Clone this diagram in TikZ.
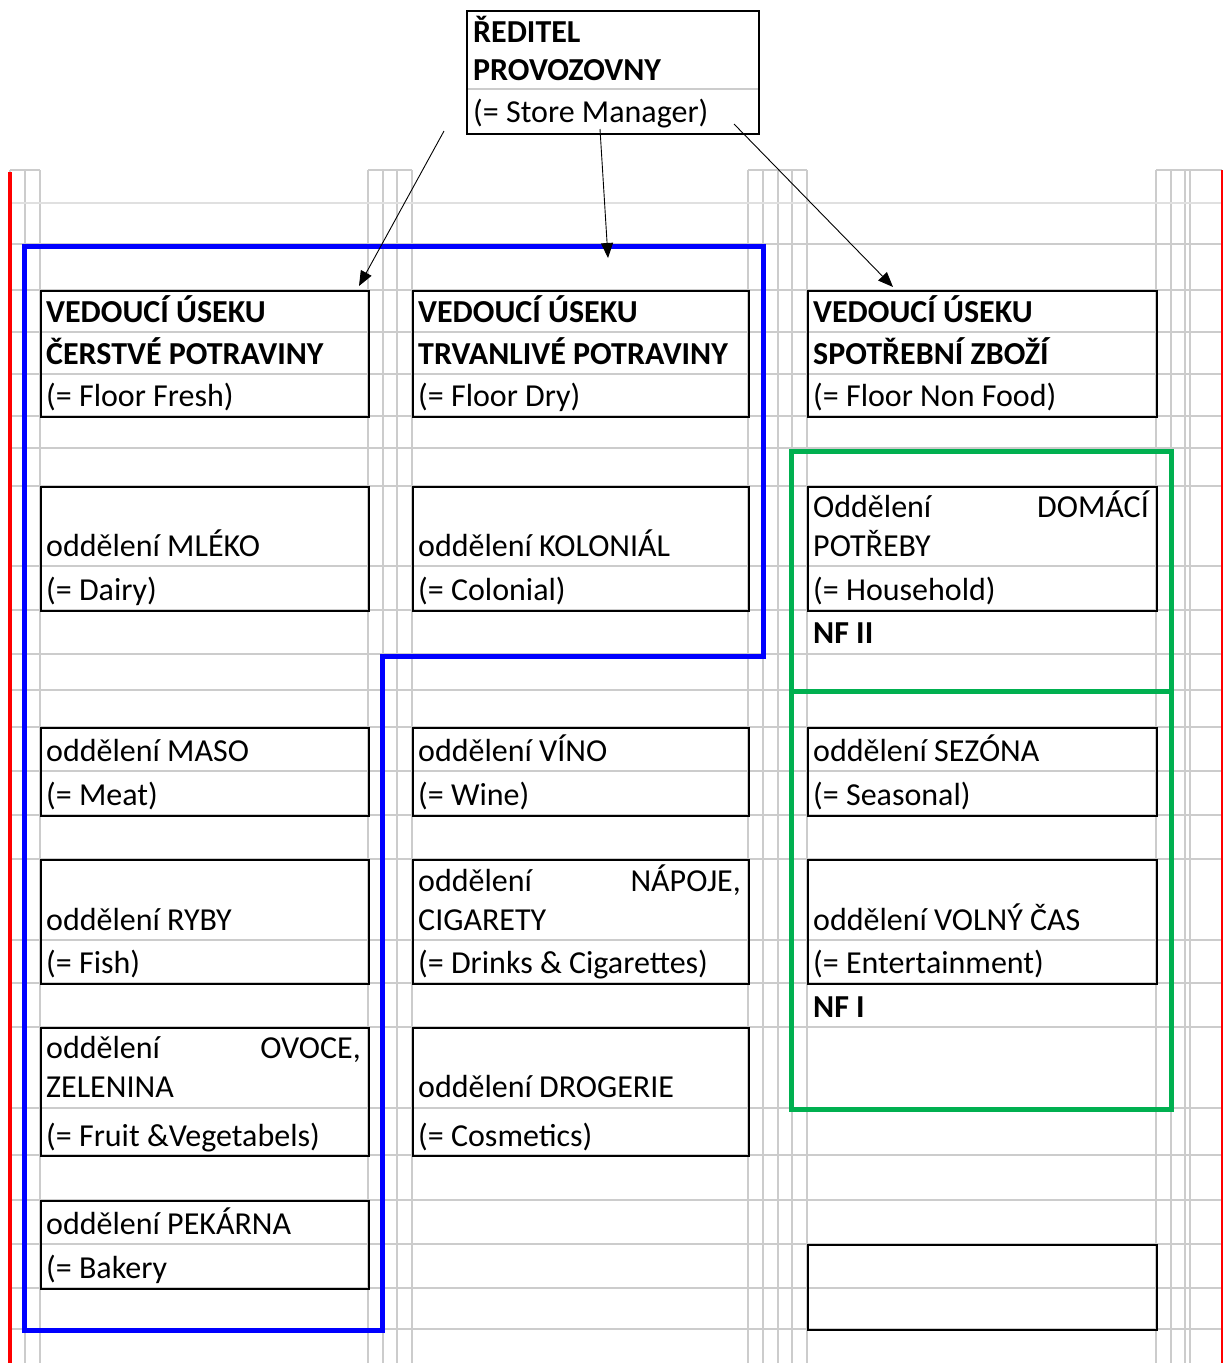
\documentclass[tikz,border=0pt]{standalone}
\usepackage{fontspec}
\setmainfont{Carlito}
\usetikzlibrary{arrows.meta}
\definecolor{gridgray}{RGB}{204,204,204}
\definecolor{gridlight}{RGB}{224,224,224}
\definecolor{xlblue}{RGB}{0,0,255}
\definecolor{xlgreen}{RGB}{0,176,80}
\definecolor{xlred}{RGB}{255,0,0}
\tikzset{
  gridline/.style={draw=gridgray, line width=1.3pt},
  boxcell/.style={draw=black, line width=1.7pt, inner sep=0pt, anchor=north west},
  txt/.style={anchor=base west, inner sep=0pt, font=\fontsize{32}{32}\selectfont},
  txtr/.style={anchor=base east, inner sep=0pt, font=\fontsize{32}{32}\selectfont},
  btxt/.style={anchor=base west, inner sep=0pt, font=\fontsize{32}{32}\selectfont\bfseries},
  conn/.style={draw=black, line width=0.9pt, -{Triangle[length=15pt,width=12pt]}},
}
\begin{document}
\begin{tikzpicture}[x=1pt,y=-1pt]
\useasboundingbox[fill=white] (0,0) rectangle (1223,1363);
% grid: vertical lines
\foreach \gx in {10,25,40,368,383,397,412,748,763,778,792,807,1156,1171,1185,1190}
  \draw[gridline] (\gx,170) -- (\gx,1363);
% top caps on narrow columns
\draw[gridline] (10,170) -- (40,170);
\draw[gridline] (368,170) -- (412,170);
\draw[gridline] (748,170) -- (807,170);
\draw[gridline] (1156,170) -- (1222,170);
% horizontal lines
\draw[draw=gridlight, line width=1.3pt] (10,203) -- (1222,203);
\foreach \gy in {244,290,332,374,416,448,486,566,610,654,690,727,771,815,859,940,983,1027,1108,1155,1200,1244,1288,1329}
  \draw[gridline] (10,\gy) -- (1222,\gy);
% top box inner line
\draw[gridline] (466,89) -- (758,89);
% red margins
\draw[xlred, line width=4.5pt] (10,172) -- (10,1363);
\draw[xlred, line width=1.3pt] (1222,170) -- (1222,1363);
% boxes
\node[boxcell, minimum width=292pt, minimum height=123pt] (top) at (466,10) {};
\node[boxcell, minimum width=328pt, minimum height=126pt] (a1) at (40,290) {};
\node[boxcell, minimum width=336pt, minimum height=126pt] (b1) at (412,290) {};
\node[boxcell, minimum width=349pt, minimum height=126pt] (c1) at (807,290) {};
\node[boxcell, minimum width=328pt, minimum height=124pt] (a2) at (40,486) {};
\node[boxcell, minimum width=336pt, minimum height=124pt] (b2) at (412,486) {};
\node[boxcell, minimum width=349pt, minimum height=124pt] (c2) at (807,486) {};
\node[boxcell, minimum width=328pt, minimum height=88pt] (a3) at (40,727) {};
\node[boxcell, minimum width=336pt, minimum height=88pt] (b3) at (412,727) {};
\node[boxcell, minimum width=349pt, minimum height=88pt] (c3) at (807,727) {};
\node[boxcell, minimum width=328pt, minimum height=124pt] (a4) at (40,859) {};
\node[boxcell, minimum width=336pt, minimum height=124pt] (b4) at (412,859) {};
\node[boxcell, minimum width=349pt, minimum height=124pt] (c4) at (807,859) {};
\node[boxcell, minimum width=328pt, minimum height=128pt] (a5) at (40,1027) {};
\node[boxcell, minimum width=336pt, minimum height=128pt] (b5) at (412,1027) {};
\node[boxcell, minimum width=328pt, minimum height=88pt] (a6) at (40,1200) {};
\node[boxcell, minimum width=349pt, minimum height=85pt] (c6) at (807,1244) {};
% texts
\node[btxt] (t1) at (473,42) {ŘEDITEL};
\node[btxt] (t2) at (473,80) {PROVOZOVNY};
\node[txt] (t3) at (473,122) {(= Store Manager)};
\node[btxt] (a1l1) at (46,322) {VEDOUCÍ ÚSEKU};
\node[btxt] (a1l2) at (46,364) {ČERSTVÉ POTRAVINY};
\node[txt] (a1l3) at (46,406) {(= Floor Fresh)};
\node[btxt] (b1l1) at (418,322) {VEDOUCÍ ÚSEKU};
\node[btxt] (b1l2) at (418,364) {TRVANLIVÉ POTRAVINY};
\node[txt] (b1l3) at (418,406) {(= Floor Dry)};
\node[btxt] (c1l1) at (813,322) {VEDOUCÍ ÚSEKU};
\node[btxt] (c1l2) at (813,364) {SPOTŘEBNÍ ZBOŽÍ};
\node[txt] (c1l3) at (813,406) {(= Floor Non Food)};
\node[txt] (a2l1) at (46,556) {oddělení MLÉKO};
\node[txt] (a2l2) at (46,600) {(= Dairy)};
\node[txt] (b2l1) at (418,556) {oddělení KOLONIÁL};
\node[txt] (b2l2) at (418,600) {(= Colonial)};
\node[txt] (c2l1) at (813,517) {Oddělení};
\node[txtr] (c2l1r) at (1149,517) {DOMÁCÍ};
\node[txt] (c2l2) at (813,556) {POTŘEBY};
\node[txt] (c2l3) at (813,600) {(= Household)};
\node[btxt] (nf2) at (813,643) {NF II};
\node[txt] (a3l1) at (46,761) {oddělení MASO};
\node[txt] (a3l2) at (46,805) {(= Meat)};
\node[txt] (b3l1) at (418,761) {oddělení VÍNO};
\node[txt] (b3l2) at (418,805) {(= Wine)};
\node[txt] (c3l1) at (813,761) {oddělení SEZÓNA};
\node[txt] (c3l2) at (813,805) {(= Seasonal)};
\node[txt] (a4l1) at (46,930) {oddělení RYBY};
\node[txt] (a4l2) at (46,973) {(= Fish)};
\node[txt] (b4l1) at (418,891) {oddělení};
\node[txtr] (b4l1r) at (741,891) {NÁPOJE,};
\node[txt] (b4l2) at (418,930) {CIGARETY};
\node[txt] (b4l3) at (418,973) {(= Drinks \& Cigarettes)};
\node[txt] (c4l1) at (813,930) {oddělení VOLNÝ ČAS};
\node[txt] (c4l2) at (813,973) {(= Entertainment)};
\node[btxt] (nf1) at (813,1017) {NF I};
\node[txt] (a5l1) at (46,1058) {oddělení};
\node[txtr] (a5l1r) at (361,1058) {OVOCE,};
\node[txt] (a5l2) at (46,1097) {ZELENINA};
\node[txt] (a5l3) at (46,1146) {(= Fruit \&Vegetabels)};
\node[txt] (b5l1) at (418,1097) {oddělení DROGERIE};
\node[txt] (b5l2) at (418,1146) {(= Cosmetics)};
\node[txt] (a6l1) at (46,1234) {oddělení PEKÁRNA};
\node[txt] (a6l2) at (46,1278) {(= Bakery};
% blue group
\draw[xlblue, line width=5pt, line join=miter] (24,1330) -- (24,246) -- (763,246) -- (763,656) -- (382,656) -- (382,1330) -- cycle;
% green groups
\draw[xlgreen, line width=5pt] (791,451) rectangle (1171,1109);
\draw[xlgreen, line width=5pt] (791,691) -- (1171,691);
% connectors
\coordinate (s1) at (444,131);
\coordinate (e1) at (359,286);
\coordinate (s2) at (600,129);
\coordinate (e2) at (608,258);
\coordinate (s3) at (734,124);
\coordinate (e3) at (893,287);
\draw[conn] (s1) -- (e1);
\draw[conn] (s2) -- (e2);
\draw[conn] (s3) -- (e3);
\end{tikzpicture}
\end{document}
